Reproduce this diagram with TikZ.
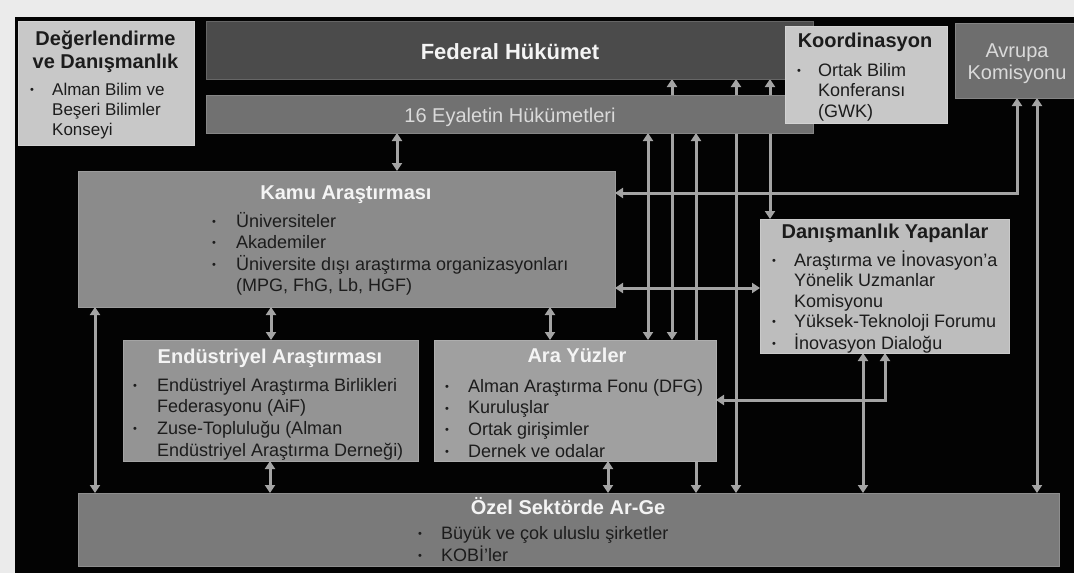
\documentclass[tikz,border=0pt]{standalone}
\usepackage{fontspec}
\setmainfont{Liberation Sans}
\usetikzlibrary{arrows.meta}
\definecolor{outerbg}{HTML}{EBEBEB}
\definecolor{panel}{HTML}{030303}
\definecolor{lightbox}{HTML}{C8C8C8}
\definecolor{danbox}{HTML}{BDBDBD}
\definecolor{fedbox}{HTML}{4B4B4B}
\definecolor{eyalbox}{HTML}{717171}
\definecolor{avrbox}{HTML}{6E6E6E}
\definecolor{kamubox}{HTML}{8B8B8B}
\definecolor{endbox}{HTML}{949494}
\definecolor{arabox}{HTML}{A0A0A0}
\definecolor{ozelbox}{HTML}{7A7A7A}
\definecolor{conncol}{HTML}{A4A4A4}
\definecolor{darktext}{HTML}{1C1C1C}
\definecolor{whitetext}{HTML}{F4F4F4}
\definecolor{softtext}{HTML}{DADADA}
\pgfdeclarelayer{back}
\pgfdeclarelayer{wires}
\pgfsetlayers{back,wires,main}
\newcommand{\bul}{\raisebox{1.6pt}{\fontsize{11}{11}\selectfont\textbullet}}
\begin{document}
\begin{tikzpicture}[x=1pt,y=-1pt,
  box/.style={rectangle, inner sep=0pt, outer sep=0pt, line width=0.8pt},
  wire/.style={draw=conncol, line width=3pt},
  both/.style={wire, {Triangle[width=10pt,length=8pt]}-{Triangle[width=10pt,length=8pt]}},
  tip/.style={wire, -{Triangle[width=10pt,length=8pt]}},
  ttl/.style={font=\fontsize{20}{23}\selectfont\bfseries, anchor=base, inner sep=0pt},
  body/.style={anchor=base west, inner sep=0pt}]
\begin{pgfonlayer}{back}
\fill[outerbg] (0,0) rectangle (1074,573);
\fill[panel] (15,17) rectangle (1074,573);
\end{pgfonlayer}
\useasboundingbox (0,0) rectangle (1074,573);

% boxes
\node[box, fill=lightbox, draw=lightbox!80!white, minimum width=176, minimum height=124] (deg) at (106,83) {};
\node[box, fill=fedbox, draw=fedbox!85!white, minimum width=607, minimum height=58] (fed) at (509.5,50) {};
\node[box, fill=eyalbox, draw=eyalbox!85!white, minimum width=607, minimum height=38] (eyal) at (509.5,114) {};
\node[box, fill=lightbox, draw=lightbox!80!white, minimum width=162, minimum height=97] (koor) at (866,74.5) {};
\node[box, fill=avrbox, draw=avrbox!85!white, minimum width=119, minimum height=75] (avr) at (1014.5,60.5) {};
\node[box, fill=kamubox, draw=kamubox!85!white, minimum width=537, minimum height=136] (kamu) at (346.5,239) {};
\node[box, fill=endbox, draw=endbox!85!white, minimum width=295, minimum height=121] (end) at (270.5,400.5) {};
\node[box, fill=arabox, draw=arabox!85!white, minimum width=282, minimum height=121] (ara) at (575,400.5) {};
\node[box, fill=danbox, draw=danbox!80!white, minimum width=249, minimum height=134] (dan) at (884.5,286) {};
\node[box, fill=ozelbox, draw=ozelbox!85!white, minimum width=981, minimum height=73] (ozel) at (568.5,529.5) {};

% connectors
\begin{pgfonlayer}{wires}
\draw[both] (eyal.south -| 397,0) -- (kamu.north -| 397,0);
\draw[both] (kamu.south -| 271,0) -- (end.north -| 271,0);
\draw[both] (kamu.south -| 550,0) -- (ara.north -| 550,0);
\draw[both] (end.south -| 270,0) -- (ozel.north -| 270,0);
\draw[both] (ara.south -| 608,0) -- (ozel.north -| 608,0);
\draw[both] (kamu.south -| 95,0) -- (ozel.north -| 95,0);
\draw[both] (eyal.south -| 648,0) -- (ara.north -| 648,0);
\draw[both] (fed.south -| 672,0) -- (ara.north -| 672,0);
\draw[both] (eyal.south -| 696,0) -- (ozel.north -| 696,0);
\draw[both] (fed.south -| 736,0) -- (ozel.north -| 736,0);
\draw[both] (fed.south -| 770,0) -- (dan.north -| 770,0);
\draw[both] (dan.south -| 863,0) -- (ozel.north -| 863,0);
\draw[both] (dan.south -| 885,0) |- (ara.east |- 0,400);
\draw[both] (avr.south -| 1017,0) |- (kamu.east |- 0,193);
\draw[both] (avr.south -| 1037,0) -- (ozel.north -| 1037,0);
\draw[both] (kamu.east |- 0,288) -- (dan.west |- 0,288);
\end{pgfonlayer}

% texts
\node[ttl, text=darktext] (degt) at (105.5,45) {\begin{tabular}[t]{@{}c@{}}Değerlendirme\\ve Danışmanlık\end{tabular}};
\node[body, text=darktext] (degb) at (30,95) {\fontsize{17}{20}\selectfont\begin{tabular}[t]{@{}p{22pt}@{}l@{}}\bul & Alman Bilim ve\\ & Beşeri Bilimler\\ & Konseyi\end{tabular}};

\node[anchor=base, inner sep=0pt, text=whitetext, font=\fontsize{22}{24}\selectfont\bfseries] (fedt) at (510,59) {Federal Hükümet};
\node[anchor=base, inner sep=0pt, text=softtext, font=\fontsize{20}{22}\selectfont] (eyalt) at (510,122) {16 Eyaletin Hükümetleri};

\node[ttl, text=darktext] (koort) at (865,47) {Koordinasyon};
\node[body, text=darktext] (koorb) at (797,76) {\fontsize{18}{20.5}\selectfont\begin{tabular}[t]{@{}p{21pt}@{}l@{}}\bul & Ortak Bilim\\ & Konferansı\\ & (GWK)\end{tabular}};

\node[anchor=base, inner sep=0pt, text=softtext, font=\fontsize{20}{22}\selectfont] (avrt) at (1017,57) {\begin{tabular}[t]{@{}c@{}}Avrupa\\Komisyonu\end{tabular}};

\node[ttl, text=whitetext] (kamut) at (346,199) {Kamu Araştırması};
\node[body, text=darktext] (kamub) at (212,227) {\fontsize{18}{21.5}\selectfont\begin{tabular}[t]{@{}p{24pt}@{}l@{}}\bul & Üniversiteler\\ \bul & Akademiler\\ \bul & Üniversite dışı araştırma organizasyonları\\ & (MPG, FhG, Lb, HGF)\end{tabular}};

\node[ttl, text=whitetext] (endt) at (270,363) {Endüstriyel Araştırması};
\node[body, text=darktext] (endb) at (133,391) {\fontsize{18}{21.7}\selectfont\begin{tabular}[t]{@{}p{24pt}@{}l@{}}\bul & Endüstriyel Araştırma Birlikleri\\ & Federasyonu (AiF)\\ \bul & Zuse-Topluluğu (Alman\\ & Endüstriyel Araştırma Derneği)\end{tabular}};

\node[ttl, text=whitetext] (arat) at (577,362) {Ara Yüzler};
\node[body, text=darktext] (arab) at (445,392) {\fontsize{18}{21.7}\selectfont\begin{tabular}[t]{@{}p{23pt}@{}l@{}}\bul & Alman Araştırma Fonu (DFG)\\ \bul & Kuruluşlar\\ \bul & Ortak girişimler\\ \bul & Dernek ve odalar\end{tabular}};

\node[ttl, text=darktext] (dant) at (885,238) {Danışmanlık Yapanlar};
\node[body, text=darktext] (danb) at (772,266) {\fontsize{18}{20.5}\selectfont\begin{tabular}[t]{@{}p{22pt}@{}l@{}}\bul & Araştırma ve İnovasyon'a\\ & Yönelik Uzmanlar\\ & Komisyonu\\ \bul & Yüksek-Teknoloji Forumu\\ \bul & İnovasyon Dialoğu\end{tabular}};

\node[ttl, text=whitetext] (ozelt) at (568,514) {Özel Sektörde Ar-Ge};
\node[body, text=darktext] (ozelb) at (418,539) {\fontsize{18}{22}\selectfont\begin{tabular}[t]{@{}p{23pt}@{}l@{}}\bul & Büyük ve çok uluslu şirketler\\ \bul & KOBİ'ler\end{tabular}};
\end{tikzpicture}
\end{document}
